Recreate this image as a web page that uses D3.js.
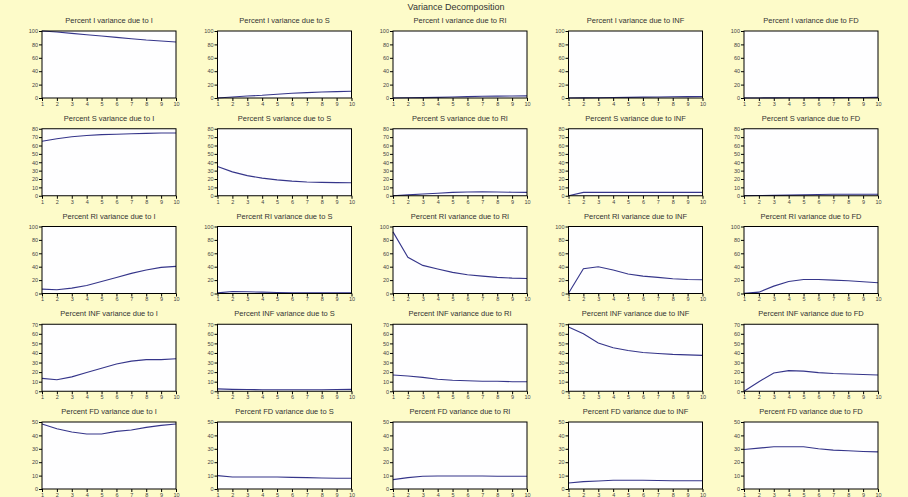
<!DOCTYPE html>
<html><head><meta charset="utf-8">
<script src="https://cdn.jsdelivr.net/npm/d3@7"></script>
<style>
html,body{margin:0;padding:0;background:#fdfbc9;}
svg{display:block;}
text{font-family:"Liberation Sans",Arial,sans-serif;}
</style></head>
<body>
<svg id="chart" width="908" height="497"></svg>
<script>
const periods = [1,2,3,4,5,6,7,8,9,10];
const variables = ["I","S","RI","INF","FD"];
const rowMax = [100, 80, 100, 70, 50];
const rowStep = [20, 10, 20, 10, 10];

const I_due_I   = [100, 98.5, 96.5, 94.5, 92.5, 90.5, 88.5, 86.5, 85, 83.5];
const I_due_S   = [0, 1.5, 3, 4, 5.5, 7, 8, 9, 9.5, 10];
const I_due_RI  = [0, 0.3, 0.6, 1, 1.5, 2, 2.5, 2.8, 3, 3.2];
const I_due_INF = [0, 0.2, 0.4, 0.7, 1, 1.3, 1.6, 1.9, 2.1, 2.3];
const I_due_FD  = [0, 0.1, 0.2, 0.3, 0.4, 0.5, 0.6, 0.7, 0.8, 0.9];

const S_due_I   = [65, 68, 70.5, 72, 73, 73.5, 74, 74.5, 75, 75];
const S_due_S   = [35, 28.5, 24, 21, 19, 17.5, 16.5, 16, 15.7, 15.6];
const S_due_RI  = [0, 1, 2, 3, 4, 4.5, 4.8, 4.5, 4.2, 4];
const S_due_INF = [0, 4, 4, 4, 4, 4, 4, 4, 4, 4];
const S_due_FD  = [0, 0.3, 0.5, 0.7, 1, 1.5, 1.8, 1.8, 1.8, 1.8];

const RI_due_I   = [6.5, 5.5, 8, 12, 18, 24, 30, 35, 39, 40.5];
const RI_due_S   = [1, 3, 2.5, 2, 1.5, 1.2, 1, 1, 1, 1];
const RI_due_RI  = [92, 54, 42, 36.5, 31.5, 28, 26, 24, 23, 22.5];
const RI_due_INF = [0.3, 37, 40, 35, 29, 26, 24, 22, 21, 20.5];
const RI_due_FD  = [0.2, 2, 11, 18, 21, 21, 20, 19, 17.5, 16];

const INF_due_I   = [13.5, 12, 15, 19.5, 24, 28.5, 31.5, 33, 33, 34];
const INF_due_S   = [2.5, 2, 1.8, 1.6, 1.5, 1.5, 1.5, 1.6, 1.8, 2];
const INF_due_RI  = [17, 16, 14.5, 12.5, 11.5, 11, 10.5, 10.5, 10, 10];
const INF_due_INF = [67, 60, 50.5, 45.5, 42.5, 40.5, 39.5, 38.5, 38, 37.5];
const INF_due_FD  = [0, 10, 19, 21.5, 21, 19.5, 18.5, 18, 17.5, 17];

const FD_due_I   = [48.5, 45, 42.5, 41, 41, 43, 44, 46, 47.5, 48.5];
const FD_due_S   = [10, 9, 9, 9, 9, 8.7, 8.5, 8.2, 8, 8];
const FD_due_RI  = [7, 8.5, 9.5, 9.7, 9.7, 9.7, 9.7, 9.5, 9.5, 9.5];
const FD_due_INF = [4.5, 5.5, 6, 6.5, 6.5, 6.5, 6.3, 6.2, 6.2, 6.2];
const FD_due_FD  = [29.5, 30.5, 31.5, 31.5, 31.5, 30, 29, 28.5, 28, 27.7];

const grid = [
  [I_due_I, I_due_S, I_due_RI, I_due_INF, I_due_FD],
  [S_due_I, S_due_S, S_due_RI, S_due_INF, S_due_FD],
  [RI_due_I, RI_due_S, RI_due_RI, RI_due_INF, RI_due_FD],
  [INF_due_I, INF_due_S, INF_due_RI, INF_due_INF, INF_due_FD],
  [FD_due_I, FD_due_S, FD_due_RI, FD_due_INF, FD_due_FD]
];

const svg = d3.select("#chart");
svg.append("rect").attr("width",908).attr("height",497).attr("fill","#fdfbc9");

svg.append("text").attr("x",456).attr("y",10).attr("text-anchor","middle")
  .attr("font-size","9px").attr("fill","#333").text("Variance Decomposition");

const left0 = 42, colGap = 175.5, top0 = 31, rowGap = 97.75;
const pw = 134, ph = 67;
const lineColor = "#35358a";

variables.forEach((rv, r) => {
  variables.forEach((cv, c) => {
    const gx = left0 + c*colGap, gy = top0 + r*rowGap;
    const g = svg.append("g").attr("transform",`translate(${gx},${gy})`);
    const x = d3.scaleLinear().domain([1,10]).range([0,pw]);
    const y = d3.scaleLinear().domain([0,rowMax[r]]).range([ph,0]);

    g.append("rect").attr("width",pw).attr("height",ph).attr("fill","#fefeff");

    const yAxis = d3.axisLeft(y).tickValues(d3.range(0,rowMax[r]+0.001,rowStep[r]))
      .tickSize(3).tickPadding(1).tickFormat(d3.format("d"));
    const ya = g.append("g").call(yAxis);
    const xAxis = d3.axisBottom(x).tickValues(periods).tickSize(3).tickPadding(1)
      .tickFormat(d3.format("d"));
    const xa = g.append("g").attr("transform",`translate(0,${ph})`).call(xAxis);
    [ya, xa].forEach(a => {
      a.select(".domain").remove();
      a.selectAll("line").attr("stroke","#000").attr("stroke-width",1);
      a.selectAll("text").attr("font-size","5.5px").attr("fill","#444")
        .attr("font-family","Liberation Sans, Arial, sans-serif");
    });

    const line = d3.line().x((d,i)=>x(periods[i])).y(d=>y(d));
    g.append("path").datum(grid[r][c]).attr("d",line).attr("fill","none")
      .attr("stroke",lineColor).attr("stroke-width",1.1);

    g.append("rect").attr("width",pw).attr("height",ph).attr("fill","none")
      .attr("stroke","#000").attr("stroke-width",1);

    g.append("text").attr("x",pw/2).attr("y",-8).attr("text-anchor","middle")
      .attr("font-size","7.5px").attr("fill","#333")
      .text(`Percent ${rv} variance due to ${cv}`);
  });
});
</script>
</body></html>
